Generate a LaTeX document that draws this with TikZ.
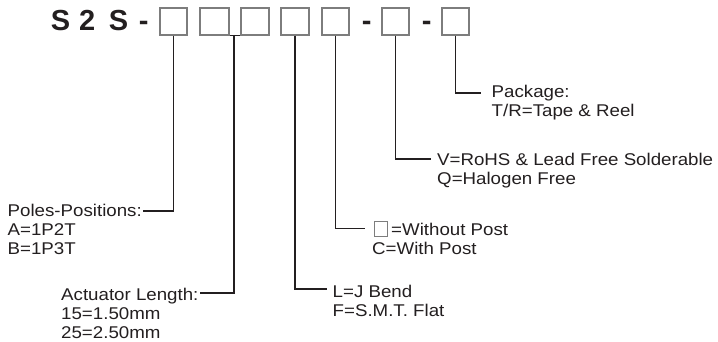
\documentclass[tikz,border=0pt]{standalone}
\usepackage{fontspec}
\usetikzlibrary{calc}
\setmainfont{Liberation Sans}[FakeStretch=1.1]
\newfontfamily\titlefont{Liberation Sans}
\definecolor{ink}{RGB}{35,31,32}
\definecolor{boxgray}{RGB}{125,125,125}
\begin{document}
\begin{tikzpicture}[x=1pt,y=-1pt,
  box/.style={draw=boxgray,line width=1.2pt,minimum width=27pt,minimum height=27pt,inner sep=0},
  sbox/.style={draw=boxgray,line width=1pt,minimum width=13pt,minimum height=15pt,inner sep=0},
  wire/.style={draw=ink,line width=1.1pt},
  lbl/.style={inner sep=0,anchor=base west,text=ink,font=\fontsize{17}{19}\selectfont},
  ttl/.style={inner sep=0,anchor=base west,text=ink,font=\titlefont\bfseries\fontsize{29}{29}\selectfont}]
\useasboundingbox[fill=white] (0,0) rectangle (718,342);
% title
\node[ttl] (t1) at (50.6,31) {S};
\node[ttl] (t2) at (79,31) {2};
\node[ttl] (t3) at (108.6,31) {S};
\node[ttl] (t4) at (138.7,31) {-};
\node[ttl] (d1) at (361.7,31) {-};
\node[ttl] (d2) at (421.7,31) {-};
% boxes
\node[box] (b1) at (173.5,21.5) {};
\node[box,minimum width=29pt] (b2) at (214.5,21.5) {};
\node[box,minimum width=28pt] (b3) at (255,21.5) {};
\node[box,minimum width=28pt] (b4) at (295,21.5) {};
\node[box] (b5) at (335.5,21.5) {};
\node[box] (b6) at (395.5,21.5) {};
\node[box] (b7) at (455.5,21.5) {};
% labels
\node[lbl] (pp1) at (7.5,216) {Poles-Positions:};
\node[lbl] (pp2) at (7.5,235) {A=1P2T};
\node[lbl] (pp3) at (7.5,254) {B=1P3T};
\node[lbl] (al1) at (61,300) {Actuator Length:};
\node[lbl] (al2) at (61,319) {15=1.50mm};
\node[lbl] (al3) at (61,338) {25=2.50mm};
\node[lbl] (lj1) at (332.5,297) {L=J Bend};
\node[lbl] (lj2) at (332.5,316) {F=S.M.T. Flat};
\node[sbox] (sb) at (381,228.5) {};
\node[lbl] (wp1) at (391,235) {=Without Post};
\node[lbl] (wp2) at (372,254) {C=With Post};
\node[lbl] (vr1) at (437,166) {V=RoHS \& Lead Free Solderable};
\node[lbl] (vr2) at (437,185) {Q=Halogen Free};
\node[lbl] (pk1) at (491.5,98) {Package:};
\node[lbl] (pk2) at (491.5,117) {T/R=Tape \& Reel};
% connectors
\coordinate (j23) at (234,35);
\draw[wire] (b2.south east) -- (b3.south west);
\draw[wire] (b1.south) |- ($(pp1.base east)+(1,-5)$);
\draw[wire] (j23) |- ($(al1.base east)+(1,-7)$);
\draw[wire] (b4.south) |- ($(lj1.base west)+(-6,-8)$);
\draw[wire] (b5.south) |- ($(sb.west)+(-9,0)$);
\draw[wire] (b6.south) |- ($(vr1.base west)+(-6,-7)$);
\draw[wire] (b7.south) |- ($(pk1.base west)+(-11,-5)$);
\end{tikzpicture}
\end{document}
